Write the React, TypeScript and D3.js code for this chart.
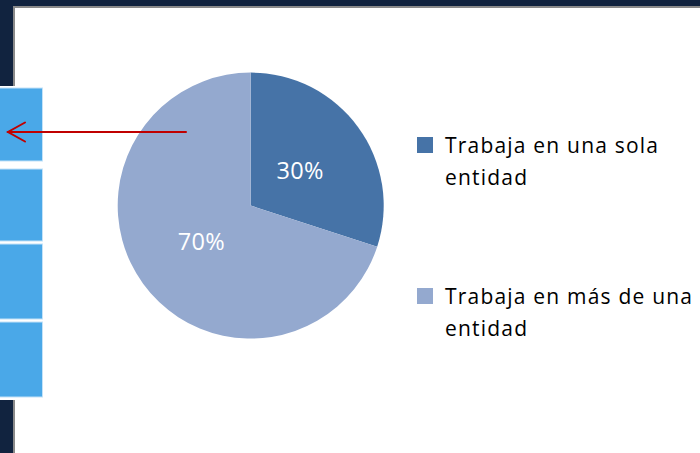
import React from "react";
import * as d3 from "d3";

const categories = ["Trabaja en una sola entidad", "Trabaja en más de una entidad"];
const legendLines = [["Trabaja en una sola", "entidad"], ["Trabaja en más de una", "entidad"]];
const values = [30, 70];
const colors = ["#4673a7", "#94a9cf"];

const W = 700;
const H = 453;
const cx = 250.7;
const cy = 205.6;
const R = 133;
const labelR = 61;

const boxRanges: [number, number][] = [
  [88, 161],
  [169, 241],
  [244, 319],
  [322, 397],
];

export default function App() {
  const pie = d3
    .pie<number>()
    .sort(null)
    .value((d) => d)
    .startAngle(0)
    .endAngle(2 * Math.PI);
  const arcs = pie(values);
  const arcGen = d3.arc<d3.PieArcDatum<number>>().innerRadius(0).outerRadius(R);
  const labelArc = d3.arc<d3.PieArcDatum<number>>().innerRadius(labelR).outerRadius(labelR);
  const total = d3.sum(values);
  const fmt = d3.format(".0%");
  const font = "'Open Sans', 'Noto Sans', sans-serif";

  const legendY = d3.scalePoint<string>().domain(categories).range([145, 296]);

  return (
    <div style={{ position: "absolute", left: 0, top: 0 }}>
      <svg width={W} height={H} style={{ display: "block" }}>
        <rect x={0} y={0} width={W} height={H} fill="#ffffff" />
        {/* frame */}
        <rect x={0} y={0} width={W} height={6} fill="#11233f" />
        <rect x={13} y={6} width={W - 13} height={2} fill="#8a8a8a" />
        <rect x={0} y={0} width={13} height={86} fill="#11233f" />
        <rect x={13} y={6} width={2} height={80} fill="#8a8a8a" />
        <rect x={0} y={400} width={13} height={H - 400} fill="#11233f" />
        <rect x={13} y={400} width={2} height={H - 400} fill="#8a8a8a" />
        {/* side boxes */}
        {boxRanges.map(([y0, y1], i) => (
          <rect
            key={i}
            x={-1}
            y={y0}
            width={43.5}
            height={y1 - y0}
            fill="#4aa8e8"
            stroke="#c3e2f8"
            strokeWidth={1}
          />
        ))}
        {/* pie */}
        <g transform={`translate(${cx},${cy})`}>
          {arcs.map((a, i) => (
            <path key={i} d={arcGen(a) || ""} fill={colors[i]} />
          ))}
          {arcs.map((a, i) => {
            const [x, y] = labelArc.centroid(a);
            return (
              <text
                key={i}
                x={x}
                y={y}
                textAnchor="middle"
                dominantBaseline="central"
                fill="#ffffff"
                fontFamily={font}
                fontSize={23.5}
                letterSpacing={0.3}
              >
                {fmt(a.data / total)}
              </text>
            );
          })}
        </g>
        {/* arrow */}
        <g stroke="#c00000" strokeWidth={2} fill="none" strokeLinecap="round">
          <line x1={186} y1={132} x2={8} y2={132} />
          <polyline points="25,122.5 8,132 25,141.5" />
        </g>
        {/* legend */}
        {categories.map((c, i) => {
          const y = legendY(c) as number;
          return (
            <g key={c}>
              <rect x={417} y={y - 8} width={16} height={16} fill={colors[i]} />
              {legendLines[i].map((ln, j) => (
                <text
                  key={j}
                  x={445}
                  y={y + 8 + j * 32}
                  fontFamily={font}
                  fontSize={21}
                  fill="#000000"
                  letterSpacing={1.2}
                >
                  {ln}
                </text>
              ))}
            </g>
          );
        })}
      </svg>
    </div>
  );
}
